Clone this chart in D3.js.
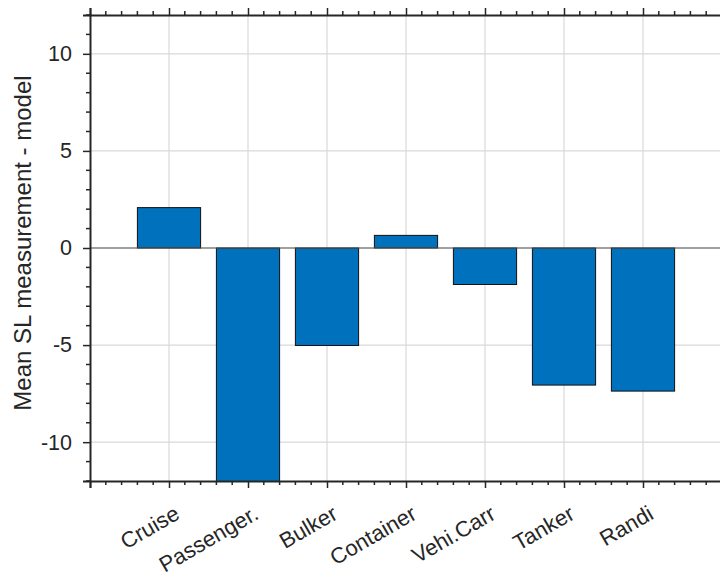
<!DOCTYPE html>
<html>
<head>
<meta charset="utf-8">
<script src="https://cdn.jsdelivr.net/npm/d3@7"></script>
<style>
html,body{margin:0;padding:0;background:#fff;}
svg{display:block;font-family:"Liberation Sans",Arial,sans-serif;}
</style>
</head>
<body>
<svg id="chart" width="720" height="579"></svg>
<script>
const categories = ["Cruise","Passenger.","Bulker","Container","Vehi.Carr","Tanker","Randi"];
const values = [2.08, -13.0, -5.02, 0.65, -1.88, -7.06, -7.37];
const yTicks = [-10, -5, 0, 5, 10];
const yLabel = "Mean SL measurement - model";

const W = 720, H = 579;
const m = {left: 90, top: 15, right: 722, bottom: 481};
const svg = d3.select("#chart");

const x = d3.scaleLinear().domain([0, 8]).range([m.left, m.right]);
const y = d3.scaleLinear().domain([-12, 12]).range([m.bottom, m.top]);

const axisColor = "#262626";

// clip
svg.append("defs").append("clipPath").attr("id","clip")
  .append("rect").attr("x", m.left).attr("y", m.top)
  .attr("width", m.right - m.left).attr("height", m.bottom - m.top);

// grid
const grid = svg.append("g");
grid.selectAll(".gx").data(d3.range(1, 8)).join("line")
  .attr("x1", d => x(d)).attr("x2", d => x(d))
  .attr("y1", m.top).attr("y2", m.bottom)
  .attr("stroke", "#d9d9d9").attr("stroke-width", 1.2);
grid.selectAll(".gy").data(yTicks).join("line")
  .attr("x1", m.left).attr("x2", m.right)
  .attr("y1", d => y(d)).attr("y2", d => y(d))
  .attr("stroke", "#d9d9d9").attr("stroke-width", 1.2);

// bars
const plot = svg.append("g").attr("clip-path", "url(#clip)");
const bw = 0.8;
plot.selectAll("rect.bar").data(values).join("rect")
  .attr("class","bar")
  .attr("x", (d,i) => x(i + 1 - bw/2))
  .attr("width", x(bw) - x(0))
  .attr("y", d => y(Math.max(0, d)))
  .attr("height", d => Math.abs(y(d) - y(0)))
  .attr("fill", "#0072BD")
  .attr("stroke", "#111").attr("stroke-width", 1);

// baseline
svg.append("line")
  .attr("x1", m.left).attr("x2", m.right)
  .attr("y1", y(0)).attr("y2", y(0))
  .attr("stroke", "#555").attr("stroke-width", 1.2);

// axes
const xMajor = d3.range(0, 9);
const xMinor = d3.range(0, 40).map(i => i * 0.2).filter(v => Math.abs(v - Math.round(v)) > 1e-6);
const yMinor = d3.range(-12, 13).filter(v => !yTicks.includes(v));

// left axis
const gl = svg.append("g").attr("transform", `translate(${m.left},0)`);
gl.call(d3.axisLeft(y).tickValues(yTicks).tickSize(7).tickPadding(11).tickFormat(d => String(d)));
gl.selectAll(".minor").data(yMinor).join("line")
  .attr("x1", -4).attr("x2", 0).attr("y1", d => y(d)).attr("y2", d => y(d))
  .attr("stroke", axisColor).attr("stroke-width", 1.5);

// bottom axis
const gb = svg.append("g").attr("transform", `translate(0,${m.bottom})`);
gb.call(d3.axisBottom(x).tickValues(xMajor).tickSize(7).tickFormat(""));
gb.selectAll(".minor").data(xMinor).join("line")
  .attr("x1", d => x(d)).attr("x2", d => x(d)).attr("y1", 0).attr("y2", 4)
  .attr("stroke", axisColor).attr("stroke-width", 1.5);

// top axis
const gt = svg.append("g").attr("transform", `translate(0,${m.top})`);
gt.call(d3.axisTop(x).tickValues(xMajor).tickSize(7).tickFormat(""));
gt.selectAll(".minor").data(xMinor).join("line")
  .attr("x1", d => x(d)).attr("x2", d => x(d)).attr("y1", 0).attr("y2", -4)
  .attr("stroke", axisColor).attr("stroke-width", 1.5);

[gl, gb, gt].forEach(g => {
  g.select(".domain").attr("stroke", axisColor).attr("stroke-width", 2);
  g.selectAll(".tick line").attr("stroke", axisColor).attr("stroke-width", 1.5);
  g.selectAll("text").attr("fill", "#262626").style("font-size", "21.5px")
   .style("font-family", "'Liberation Sans', Arial, sans-serif");
});

// category labels
svg.append("g").selectAll("text").data(categories).join("text")
  .attr("transform", (d,i) => `translate(${x(i+1) + 12},${m.bottom + 37}) rotate(-30)`)
  .attr("text-anchor", "end")
  .attr("fill", "#262626")
  .style("font-size", "22px")
  .text(d => d);

// y label
svg.append("text")
  .attr("transform", `translate(31,243) rotate(-90)`)
  .attr("text-anchor", "middle")
  .attr("fill", "#262626")
  .style("font-size", "24px")
  .text(yLabel);
</script>
</body>
</html>
